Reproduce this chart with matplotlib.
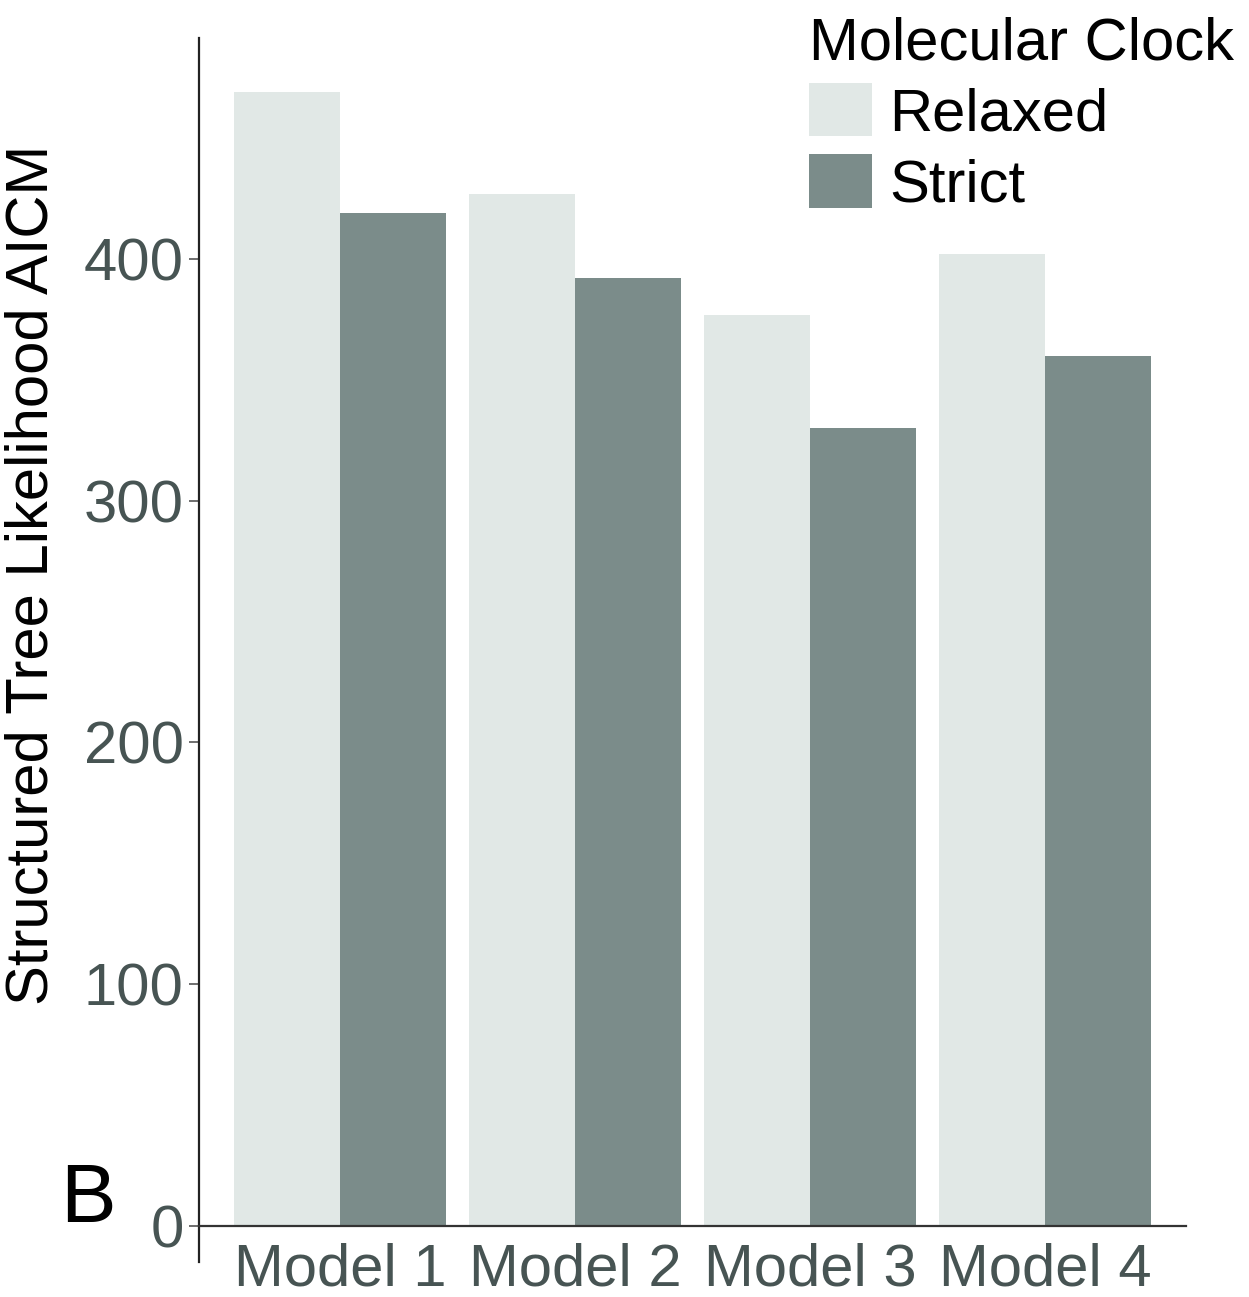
import numpy as np
import matplotlib
matplotlib.use("Agg")
import matplotlib.pyplot as plt
from matplotlib.patches import Patch

plt.rcParams['font.family'] = ['Liberation Sans', 'DejaVu Sans']

# AICM values per model and clock type
models = ['Model 1', 'Model 2', 'Model 3', 'Model 4']
relaxed = [469, 427, 377, 402]
strict = [419, 392, 330, 360]
yticks = [0, 100, 200, 300, 400]

relaxed_col = '#e1e8e6'
strict_col = '#7b8c8a'
tick_col = '#475453'
fs = 43

fig = plt.figure(figsize=(12.49, 12.97), dpi=100)
ax = fig.add_axes([0.1593, 0.027, 0.7902, 0.9437])

x = np.arange(1, len(models) + 1)
w = 0.45
ax.bar(x - w / 2, relaxed, width=w, color=relaxed_col, label='Relaxed')
ax.bar(x + w / 2, strict, width=w, color=strict_col, label='Strict')

ax.set_xlim(0.4, 4.6)
ax.set_ylim(-15, 491.5)
ax.spines['top'].set_visible(False)
ax.spines['right'].set_visible(False)
ax.spines['bottom'].set_position(('data', 0))
ax.spines['left'].set_linewidth(1.6)
ax.spines['bottom'].set_linewidth(1.6)
ax.spines['left'].set_color('#222222')
ax.spines['bottom'].set_color('#333333')

ax.set_xticks(x)
ax.set_xticklabels(models)
ax.set_yticks(yticks)
ax.tick_params(axis='x', length=0, pad=12, labelsize=fs, labelcolor=tick_col)
ax.tick_params(axis='y', length=7, width=1.2, pad=4, labelsize=fs,
               labelcolor=tick_col, color='#555555')

fig.text(32 / 1249, 1 - 575 / 1297, 'Structured Tree Likelihood AICM',
         rotation=90, ha='center', va='center', fontsize=fs, color='black')
fig.text(60 / 1249, 1 - 1222 / 1297, 'B', fontsize=60, color='black',
         ha='left', va='baseline')

handles = [Patch(facecolor=relaxed_col, label='Relaxed'),
           Patch(facecolor=strict_col, label='Strict')]
leg = fig.legend(handles=handles, title='Molecular Clock', loc='upper left',
                 bbox_to_anchor=(809 / 1249, 1 - 16 / 1297), frameon=False,
                 fontsize=fs, title_fontsize=fs, borderpad=0, borderaxespad=0,
                 handlelength=1.05, handleheight=1.0, labelspacing=0.2,
                 handletextpad=0.3, alignment='left')

fig.savefig('out.png', dpi=100)
